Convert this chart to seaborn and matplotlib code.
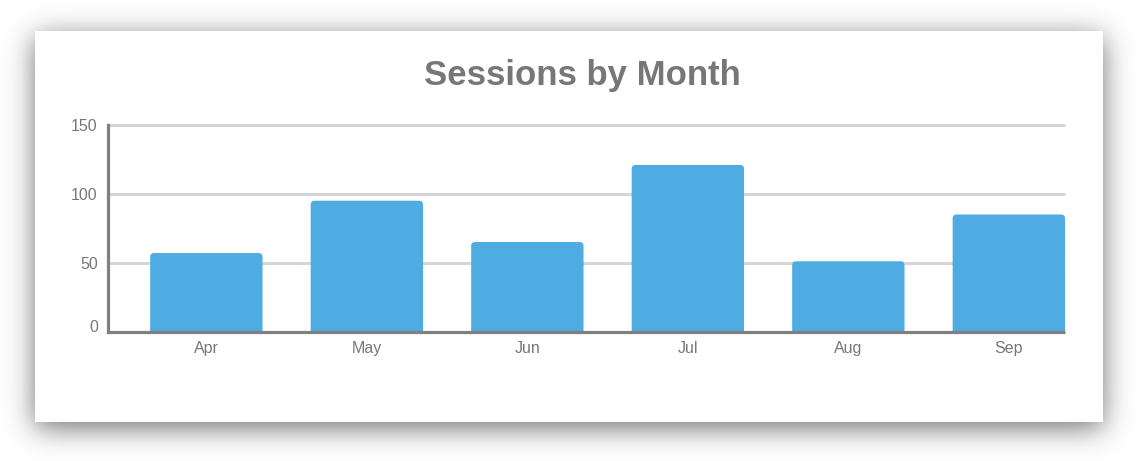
import numpy as np
import pandas as pd
import seaborn as sns
import matplotlib.pyplot as plt
import matplotlib.transforms as mtransforms
from matplotlib.patches import FancyBboxPatch

months = ["Apr", "May", "Jun", "Jul", "Aug", "Sep"]
sessions = [57, 95, 65, 121, 51, 85]
y_ticks = [0, 50, 100, 150]

W, H = 1138, 461
BAR_COLOR = "#4eace3"
TEXT_COLOR = "#777777"

sns.set_theme(style="white")
plt.rcParams["font.family"] = ["Liberation Sans", "DejaVu Sans"]

fig = plt.figure(figsize=(W / 100, H / 100), dpi=100)

# card with a soft drop shadow, composed as a background image
card = (35, 31, 1103, 422)
mask = np.zeros((H, W))
mask[card[1] + 6:card[3] + 6, card[0]:card[2]] = 1.0
k = np.exp(-0.5 * (np.arange(-45, 46) / 14.0) ** 2)
k /= k.sum()
mask = np.apply_along_axis(lambda r: np.convolve(r, k, mode="same"), 1, mask)
mask = np.apply_along_axis(lambda c: np.convolve(c, k, mode="same"), 0, mask)
bg = 1.0 - 0.55 * mask
bg[card[1]:card[3], card[0]:card[2]] = 1.0
img = np.dstack([bg, bg, bg])
fig.figimage(img, xo=0, yo=0, origin="upper", zorder=0)

ax = fig.add_axes([107.5 / W, (H - 331.5) / H, (1065 - 107.5) / W, (331.5 - 125) / H])
ax.set_zorder(2)
ax.set_facecolor("none")

df = pd.DataFrame({"month": months, "sessions": sessions})
sns.barplot(data=df, x="month", y="sessions", color=BAR_COLOR, width=0.7,
            saturation=1, ax=ax, zorder=2)

ax.set_xlim(-0.616, 5.35)
ax.set_ylim(0, 150)

# swap plain bars for ones with rounded top corners
xpp = (5.35 + 0.616) / (1065 - 107.5)
ypp = 150 / (331.5 - 125)
for p in list(ax.patches):
    x0, w, h = p.get_x(), p.get_width(), p.get_height()
    p.remove()
    rb = FancyBboxPatch((x0, -5), w, h + 5,
                        boxstyle=f"round,pad=0,rounding_size={4 * xpp}",
                        mutation_aspect=ypp / xpp,
                        facecolor=BAR_COLOR, edgecolor="none", zorder=2)
    ax.add_patch(rb)

# grid lines (unclipped so the top one keeps its full width)
for yv in y_ticks[1:]:
    ax.axhline(yv, color="#d6d6d6", linewidth=2.2, zorder=1, clip_on=False,
               solid_capstyle="butt")

ax.set_yticks(y_ticks)
for s in ["top", "right"]:
    ax.spines[s].set_visible(False)
for s in ["left", "bottom"]:
    ax.spines[s].set_color("#808080")
    ax.spines[s].set_linewidth(2.3)
    ax.spines[s].set_zorder(3)
ax.spines["bottom"].set_capstyle("butt")
ax.tick_params(axis="both", length=0, labelsize=11.5, labelcolor=TEXT_COLOR)
ax.tick_params(axis="y", pad=7)
ax.tick_params(axis="x", pad=7)
ax.set_xlabel("")
ax.set_ylabel("")

# the zero label sits a little above the baseline
zero_lbl = ax.get_yticklabels()[0]
zero_lbl.set_transform(zero_lbl.get_transform()
                       + mtransforms.ScaledTranslation(0, 5 / 100, fig.dpi_scale_trans))

t = fig.text(582 / W, 1 - 76 / H, "Sessions by Month", ha="center", va="center",
             fontsize=25, fontweight="bold", color=TEXT_COLOR)
t.set_zorder(3)

fig.savefig("out.png", dpi=100)
plt.close("all")
